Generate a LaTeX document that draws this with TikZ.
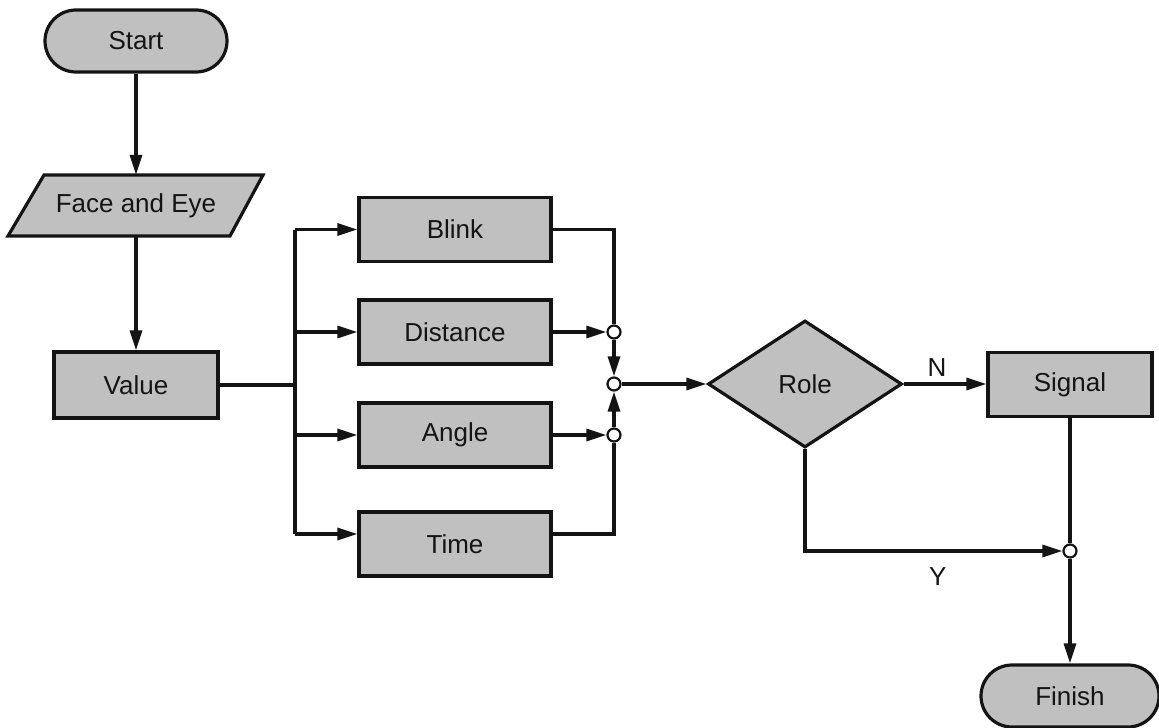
\documentclass[tikz,border=0pt]{standalone}
\usepackage{fontspec}
\setmainfont{Liberation Sans}
\usetikzlibrary{shapes.geometric,arrows.meta,calc}
\definecolor{boxgray}{RGB}{192,192,192}
\definecolor{ink}{RGB}{20,20,20}
\begin{document}
\begin{tikzpicture}[x=1pt,y=-1pt,
  every node/.style={font=\fontsize{26}{30}\selectfont, text=ink},
  shp/.style={draw=ink, line width=3.2pt, fill=boxgray, inner sep=0pt},
  procbox/.style={shp, rectangle, minimum width=192pt, minimum height=64pt},
  termbox/.style={shp, rectangle, rounded corners=31pt, minimum height=62pt},
  junc/.style={circle, draw=ink, fill=white, line width=2.2pt, minimum size=13pt, inner sep=0pt},
  conn/.style={draw=ink, line width=3.2pt},
  arr/.style={conn, -{Triangle[length=20pt,width=12pt]}},
  lbl/.style={font=\fontsize{26}{30}\selectfont}
]
\useasboundingbox (0,0) rectangle (1159,728);

% terminals
\node[termbox, minimum width=182pt] (start) at (136,41) {Start};
\node[termbox, minimum width=178pt] (finish) at (1070,696) {Finish};

% input parallelogram
\draw[shp] (44,175) -- (263,175) -- (230,236) -- (8,236) -- cycle;
\node[minimum width=180pt, minimum height=61pt, inner sep=0pt] (face) at (136,205.5) {Face and Eye};

% process boxes
\node[procbox, minimum width=164pt, minimum height=66pt] (value) at (136,385) {Value};
\node[procbox] (blink) at (455,229.5) {Blink};
\node[procbox] (dist) at (455,332) {Distance};
\node[procbox] (angle) at (455,435) {Angle};
\node[procbox] (time) at (455,544) {Time};
\node[procbox, minimum width=164pt] (signal) at (1070,384.5) {Signal};

% decision
\node[shp, diamond, aspect=1.5, minimum width=194pt, minimum height=127pt] (role) at (805,384) {Role};

% junctions
\node[junc] (j1) at (614,332) {};
\node[junc] (j0) at (614,384) {};
\node[junc] (j2) at (614,435) {};
\node[junc] (j3) at (1070,551) {};

% helper coordinates
\coordinate (bx) at (295,385);
\coordinate (tw) at ([yshift=10pt]time.west);
\coordinate (te) at ([yshift=10pt]time.east);

% left column
\draw[arr] (start) -- (face.north);
\draw[arr] (face.south) -- (value);

% fan out
\draw[conn] (value.east) -- (bx);
\draw[conn] (bx |- blink.west) -- (bx |- tw);
\draw[arr] (bx |- blink.west) -- (blink.west);
\draw[arr] (bx |- dist.west) -- (dist.west);
\draw[arr] (bx |- angle.west) -- (angle.west);
\draw[arr] (bx |- tw) -- (tw);

% fan in
\draw[conn] (blink.east) -| (j1);
\draw[arr] (dist.east) -- (j1);
\draw[arr] (angle.east) -- (j2);
\draw[conn] (te) -| (j2);
\draw[arr] (j1) -- (j0);
\draw[arr] (j2) -- (j0);
\draw[arr] (j0) -- (role.west);

% decision outputs
\draw[arr] (role.east) -- (signal.west |- role.east) node[midway, above=3pt, xshift=-8pt, lbl] {N};
\draw[arr] (role.south) |- (j3) node[pos=0.75, below=12pt, xshift=4pt, lbl] {Y};
\draw[conn] (signal.south) -- (j3);
\draw[arr] (j3) -- (finish.north);
\end{tikzpicture}
\end{document}
